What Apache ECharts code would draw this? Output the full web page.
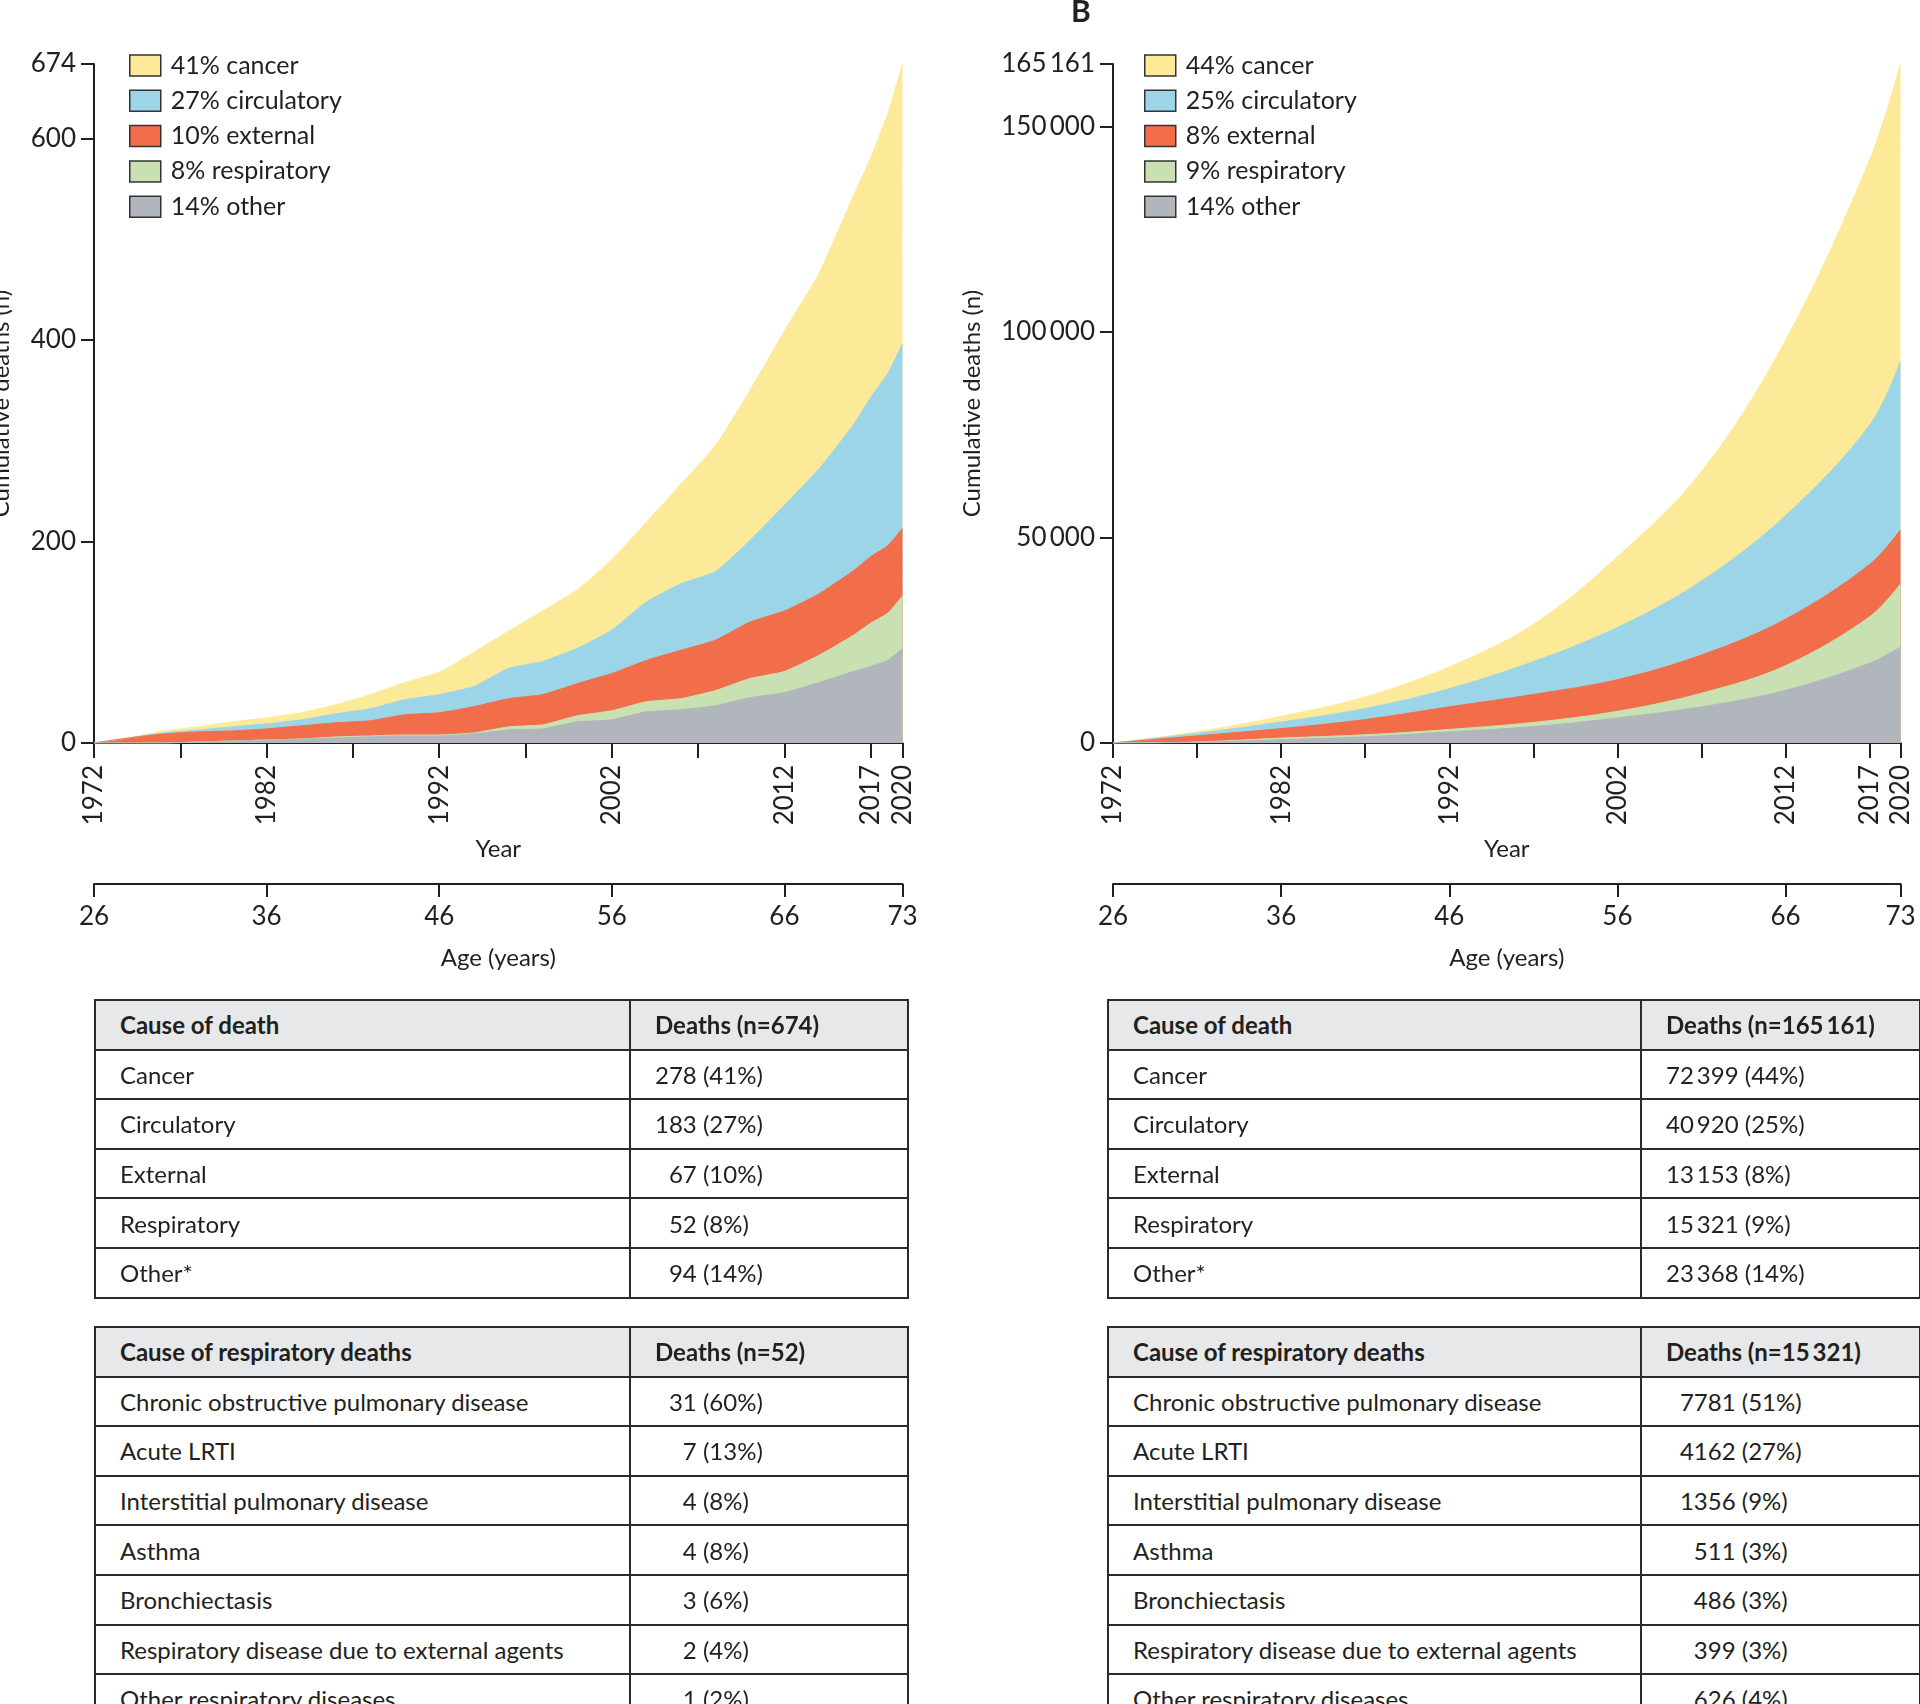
<!DOCTYPE html>
<html>
<head>
<meta charset="utf-8">
<script src="https://cdn.jsdelivr.net/npm/echarts@6.0.0/dist/echarts.min.js"></script>
<style>
  body { margin: 0; background: #fff; width: 1920px; height: 1704px; overflow: hidden; position: relative;
         font-family: Lato, 'Noto Sans', sans-serif; color: #231f20; }
  #chart { position: absolute; left: 0; top: 0; width: 1920px; height: 1000px; }
  table.t { position: absolute; border-collapse: collapse; table-layout: fixed; font-size: 24px; }
  table.t td { border: 2px solid #2b2b2b; padding: 0 0 0 24px; white-space: pre; overflow: hidden; }
  table.t tr { height: 49.6px; }
  table.t tr.h td { background: #e6e8ea; font-weight: bold; }
</style>
</head>
<body>
<div id="chart"></div>
<script>
// follow-up time in years since 1972 (last point = end of follow-up, labelled 2020)
const END = 46.84
const xA = [0, 2, 4, 6, 8, 10, 12, 14, 16, 18, 20, 22, 24, 26, 28, 30, 32, 34, 36, 38, 40, 42, 44, 45, 46, END]
const xB = [0, 5, 10, 15, 20, 25, 30, 35, 40, 45, END]
const labelledYears = [1972, 1982, 1992, 2002, 2012, 2017]
const lastYearLabel = '2020'
const firstAge = 26
const lastAgeLabel = '73'

// cumulative deaths by cause, panel A
const aCancer = [0, 0, 2, 3, 5, 6, 7, 9, 14, 17, 22, 34, 37, 50, 58, 70, 79, 99, 125, 149, 173, 194, 227, 238, 258, 278]
const aCirc = [0, 0, 1, 2, 4, 5, 6, 9, 12, 15, 18, 20, 30, 33, 35, 43, 58, 66, 68, 81, 105, 124, 145, 158, 171, 183]
const aExt = [0, 5, 9, 10, 10, 11, 13, 14, 15, 20, 22, 26, 28, 30, 32, 37, 41, 48, 50, 56, 60, 61, 64, 66, 67, 67]
const aResp = [0, 0, 0, 0, 0, 0, 0, 1, 1, 1, 1, 1, 3, 4, 6, 9, 10, 11, 15, 19, 21, 27, 36, 43, 47, 52]
const aOther = [0, 0, 0, 1, 2, 3, 4, 5, 6, 7, 7, 9, 13, 14, 21, 23, 31, 33, 37, 45, 50, 60, 71, 76, 82, 94]

// cumulative deaths by cause, panel B
const bCancer = [0, 400, 1400, 2800, 5300, 9000, 17200, 26600, 42600, 64500, 72399]
const bCirc = [0, 600, 1600, 2700, 4400, 8000, 12700, 18000, 25200, 33900, 40920]
const bExt = [0, 1500, 2300, 3700, 5500, 6800, 7700, 9300, 11300, 12700, 13153]
const bResp = [0, 80, 400, 500, 600, 1000, 1600, 3300, 6000, 11300, 15321]
const bOther = [0, 160, 800, 1500, 2700, 4000, 6100, 8800, 12800, 19400, 23368]

// tables
const causes = ['Cancer', 'Circulatory', 'External', 'Respiratory', 'Other*']
const legendCauses = ['cancer', 'circulatory', 'external', 'respiratory', 'other']
const deathsA = [278, 183, 67, 52, 94]
const deathsB = [72399, 40920, 13153, 15321, 23368]
const respCauses = ['Chronic obstructive pulmonary disease', 'Acute LRTI', 'Interstitial pulmonary disease',
  'Asthma', 'Bronchiectasis', 'Respiratory disease due to external agents', 'Other respiratory diseases']
const respA = [31, 7, 4, 4, 3, 2, 1]
const respB = [7781, 4162, 1356, 511, 486, 399, 626]

const colors = ['#fdea98', '#9dd5e8', '#f26d4a', '#c9e1b2', '#b1b6bd']
const ink = '#231f20'
const font = 'Lato'

const sum = a => a.reduce((s, v) => s + v, 0)
const fmt = n => n >= 10000 ? String(n).replace(/\B(?=(\d{3})+(?!\d))/g, '\u2009') : String(n)
const pct = (n, tot) => Math.round(100 * n / tot) + '%'

function seriesFor(cols, xs, names, gi, smooth) {
  // cols are in legend order (cancer on top). Each area is the running total of the
  // causes below it, drawn from the top band down so the lower bands paint over it.
  const out = []
  cols.forEach((col, i) => {
    const below = cols.slice(i)
    out.push({
      type: 'line', name: names[i],
      xAxisIndex: gi * 2, yAxisIndex: gi,
      data: xs.map((x, j) => [x, sum(below.map(c => c[j]))]),
      showSymbol: false, symbol: 'none', smooth: smooth,
      lineStyle: { width: 1, color: colors[i] },
      itemStyle: { color: colors[i] },
      areaStyle: { color: colors[i], opacity: 1, origin: 'start' },
      silent: true, emphasis: { disabled: true }
    })
  })
  return out
}

function yearAxis(gi) {
  return {
    type: 'value', gridIndex: gi, position: 'bottom', min: 0, max: END, interval: 5,
    axisLine: { onZero: false, lineStyle: { color: ink, width: 2 } },
    axisTick: { length: 15, lineStyle: { color: ink, width: 2 } },
    splitLine: { show: false },
    axisLabel: {
      rotate: 90, margin: 22, fontSize: 26, fontFamily: font, color: ink,
      showMinLabel: true, showMaxLabel: true,
      formatter: v => v > END - 0.01 ? lastYearLabel
        : (labelledYears.indexOf(1972 + Math.round(v)) >= 0 ? String(1972 + Math.round(v)) : '')
    },
    name: 'Year', nameLocation: 'middle', nameGap: 94,
    nameTextStyle: { fontSize: 24, fontFamily: font, color: ink }
  }
}

function ageAxis(gi) {
  return {
    type: 'value', gridIndex: gi, position: 'bottom', offset: 141,
    min: firstAge, max: firstAge + END, interval: 10,
    axisLine: { onZero: false, lineStyle: { color: ink, width: 2 } },
    axisTick: { length: 13, lineStyle: { color: ink, width: 2 } },
    splitLine: { show: false },
    axisLabel: {
      margin: 20, fontSize: 26, fontFamily: font, color: ink,
      showMinLabel: true, showMaxLabel: true,
      formatter: v => v > firstAge + END - 0.01 ? lastAgeLabel : String(Math.round(v))
    },
    name: 'Age (years)', nameLocation: 'middle', nameGap: 62,
    nameTextStyle: { fontSize: 24, fontFamily: font, color: ink }
  }
}

function valueAxis(gi, total, gap) {
  return {
    type: 'value', gridIndex: gi, min: 0, max: total, interval: total > 1000 ? 50000 : 200,
    axisLine: { show: true, lineStyle: { color: ink, width: 2 } },
    axisTick: { show: true, length: 13, lineStyle: { color: ink, width: 2 } },
    splitLine: { show: false },
    axisLabel: { margin: 18, fontSize: 26, fontFamily: font, color: ink,
      showMinLabel: true, showMaxLabel: true, formatter: v => fmt(v) },
    name: 'Cumulative deaths (n)', nameLocation: 'middle', nameGap: gap,
    nameTextStyle: { fontSize: 24, fontFamily: font, color: ink }
  }
}

function legendFor(left, names) {
  return {
    left: left, top: 48, orient: 'vertical', data: names.slice(), icon: 'rect',
    itemWidth: 31, itemHeight: 21, itemGap: 10.3, selectedMode: false,
    itemStyle: { borderColor: '#333', borderWidth: 1.5 },
    textStyle: { fontSize: 25, lineHeight: 25, fontFamily: font, color: ink, padding: [0, 0, 0, 5] }
  }
}

const totA = sum(deathsA)
const totB = sum(deathsB)
const namesA = legendCauses.map((c, i) => pct(deathsA[i], totA) + ' ' + c)
const namesB = legendCauses.map((c, i) => pct(deathsB[i], totB) + ' ' + c)

const chart = echarts.init(document.getElementById('chart'))
chart.setOption({
  animation: false,
  textStyle: { fontFamily: font, color: ink },
  grid: [
    { left: 94, top: 64, width: 808.5, height: 679, outerBoundsMode: 'none' },
    { left: 1113, top: 64, width: 787.5, height: 679, outerBoundsMode: 'none' }
  ],
  xAxis: [yearAxis(0), ageAxis(0), yearAxis(1), ageAxis(1)],
  yAxis: [valueAxis(0, totA, 81), valueAxis(1, totB, 129)],
  legend: [legendFor(124, namesA), legendFor(1139, namesB)],
  graphic: [
    { type: 'text', left: 1071, top: -3, style: { text: 'B', font: 'bold 30px Lato', fill: ink } }
  ],
  series: seriesFor([aCancer, aCirc, aExt, aResp, aOther], xA, namesA, 0, 0.15)
    .concat(seriesFor([bCancer, bCirc, bExt, bResp, bOther], xB, namesB, 1, 0.35))
})

// tables under the charts
function padCount(n, digits) {
  const len = String(n).length
  return '\u2007'.repeat(Math.max(0, digits - len)) + fmt(n)
}

function buildTable(left, top, widths, head, labels, counts, digits) {
  const tot = sum(counts)
  const t = document.createElement('table')
  t.className = 't'
  t.style.left = left + 'px'
  t.style.top = top + 'px'
  t.style.width = (widths[0] + widths[1]) + 'px'
  let html = '<colgroup><col style="width:' + widths[0] + 'px"><col style="width:' + widths[1] + 'px"></colgroup>'
  html += '<tr class="h"><td>' + head + '</td><td>Deaths (n=' + fmt(tot) + ')</td></tr>'
  labels.forEach((lab, i) => {
    html += '<tr><td>' + lab + '</td><td>' + padCount(counts[i], digits) + ' (' + pct(counts[i], tot) + ')</td></tr>'
  })
  t.innerHTML = html
  document.body.appendChild(t)
}

buildTable(94, 999, [535, 278], 'Cause of death', causes, deathsA, 3)
buildTable(94, 1326, [535, 278], 'Cause of respiratory deaths', respCauses, respA, 3)
buildTable(1107, 999, [533, 279], 'Cause of death', causes, deathsB, 5)
buildTable(1107, 1326, [533, 279], 'Cause of respiratory deaths', respCauses, respB, 5)
</script>
</body>
</html>
